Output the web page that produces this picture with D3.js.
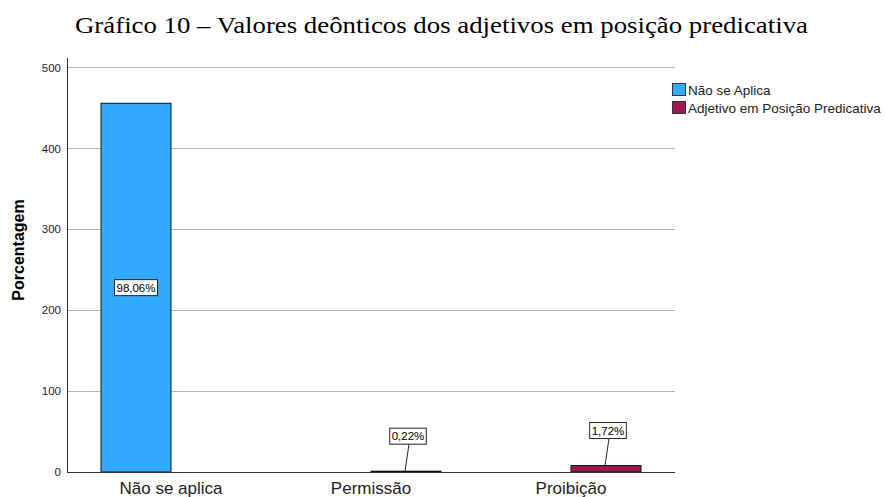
<!DOCTYPE html>
<html>
<head>
<meta charset="utf-8">
<script src="https://cdn.jsdelivr.net/npm/d3@7"></script>
<style>
  body { margin: 0; background: #fff; }
  svg { display: block; }
</style>
</head>
<body>
<div id="chart"></div>
<script>
(function () {

// data (counts, percentages as labels)
const categories = ["Não se aplica", "Permissão", "Proibição"];
const seriesNames = ["Não se Aplica", "Adjetivo em Posição Predicativa"];
const seriesColors = ["#33aaff", "#9b1a4f"];
// one bar per category: which series it belongs to and its value
const barSeries = ["Não se Aplica", "Adjetivo em Posição Predicativa", "Adjetivo em Posição Predicativa"];
const barValues = [456, 1, 8];
const barLabels = ["98,06%", "0,22%", "1,72%"];
const yTicks = [0, 100, 200, 300, 400, 500];

const W = 887, H = 497;
const margin = {top: 58, right: 212, bottom: 25, left: 67};
const width = W - margin.left - margin.right,
      height = H - margin.top - margin.bottom;

const sans = "'Liberation Sans', Arial, sans-serif";

const svg = d3.select("#chart").append("svg")
    .attr("width", W)
    .attr("height", H);

// title
svg.append("text")
    .attr("x", 441.5)
    .attr("y", 33)
    .attr("text-anchor", "middle")
    .attr("textLength", 733)
    .attr("lengthAdjust", "spacingAndGlyphs")
    .style("font-family", "'Liberation Serif', 'Times New Roman', serif")
    .style("font-size", "23px")
    .text("Gráfico 10 – Valores deônticos dos adjetivos em posição predicativa");

const g = svg.append("g")
    .attr("transform", "translate(" + margin.left + "," + margin.top + ")");

const x = d3.scaleBand().domain(categories).range([0, width]).paddingInner(0.3).paddingOuter(0.17);
const xs = d3.scaleBand().domain(seriesNames).range([0, x.bandwidth()]);
const y = d3.scaleLinear().domain([0, 512]).range([height, 0]);
const color = d3.scaleOrdinal().domain(seriesNames).range(seriesColors);

// gridlines
g.selectAll(".grid")
  .data(yTicks.filter(d => d > 0))
  .join("line")
    .attr("x1", 0).attr("x2", width)
    .attr("y1", d => y(d)).attr("y2", d => y(d))
    .attr("stroke", "#b4b4b4")
    .attr("stroke-width", 1)
    .attr("shape-rendering", "crispEdges");

// y tick labels
g.selectAll(".ytick")
  .data(yTicks)
  .join("text")
    .attr("x", -6)
    .attr("y", d => y(d))
    .attr("dy", "0.35em")
    .attr("text-anchor", "end")
    .style("font-family", sans)
    .style("font-size", "11.5px")
    .attr("fill", "#222")
    .text(d => d);

// bars
const bars = categories.map((c, i) => ({cat: c, series: barSeries[i], value: barValues[i], label: barLabels[i]}));

g.selectAll(".bar")
  .data(bars)
  .join("rect")
    .attr("x", d => x(d.cat) + xs(d.series))
    .attr("y", d => y(d.value))
    .attr("width", xs.bandwidth())
    .attr("height", d => y(0) - y(d.value))
    .attr("fill", d => color(d.series))
    .attr("stroke", "#111")
    .attr("stroke-width", 1);

// axes lines
g.append("line")
    .attr("x1", 0).attr("x2", 0).attr("y1", 0).attr("y2", height)
    .attr("stroke", "#333").attr("shape-rendering", "crispEdges");
g.append("line")
    .attr("x1", 0).attr("x2", width).attr("y1", height).attr("y2", height)
    .attr("stroke", "#333").attr("shape-rendering", "crispEdges");

// x labels
g.selectAll(".xlab")
  .data(categories)
  .join("text")
    .attr("x", d => x(d) + x.bandwidth() / 2)
    .attr("y", height + 22)
    .attr("text-anchor", "middle")
    .style("font-family", sans)
    .style("font-size", "17px")
    .attr("fill", "#222")
    .text(d => d);

// y axis title
svg.append("text")
    .attr("transform", "translate(24,250) rotate(-90)")
    .attr("text-anchor", "middle")
    .style("font-family", sans)
    .style("font-size", "16px")
    .style("font-weight", "bold")
    .text("Porcentagem");

// data labels: big bars get label inside, small ones get a box above + leader line
const lab = g.selectAll(".lab")
  .data(bars)
  .join("g");

lab.each(function (d) {
  const cx = x(d.cat) + xs(d.series) + xs.bandwidth() / 2;
  const sel = d3.select(this);
  let ly, lx = cx;
  if (d.value > 100) {
    ly = y(d.value / 2);
  } else {
    ly = y(d.value) - 35;
    lx = cx + 2;
    sel.append("line")
      .attr("x1", cx - 1).attr("y1", y(d.value))
      .attr("x2", lx + 1).attr("y2", ly + 8)
      .attr("stroke", "#222");
  }
  const t = sel.append("text")
    .attr("x", lx)
    .attr("y", ly)
    .attr("dy", "0.35em")
    .attr("text-anchor", "middle")
    .style("font-family", sans)
    .style("font-size", "11.5px")
    .text(d.label);
  const bb = t.node().getBBox();
  sel.insert("rect", "text")
    .attr("x", bb.x - 2)
    .attr("y", ly - 8)
    .attr("width", bb.width + 4)
    .attr("height", 16)
    .attr("fill", "#fff")
    .attr("stroke", "#222");
});

// legend
const leg = svg.append("g").attr("transform", "translate(672,83)");
const li = leg.selectAll("g")
  .data(seriesNames)
  .join("g")
    .attr("transform", (d, i) => "translate(0," + i * 18 + ")");
li.append("rect")
    .attr("x", 0.5).attr("y", 0.5)
    .attr("width", 13).attr("height", 12)
    .attr("fill", d => color(d))
    .attr("stroke", "#333");
li.append("text")
    .attr("x", 16).attr("y", 7)
    .attr("dy", "0.35em")
    .style("font-family", sans)
    .style("font-size", "13.5px")
    .attr("fill", "#222")
    .text(d => d);

})();
</script>
</body>
</html>
